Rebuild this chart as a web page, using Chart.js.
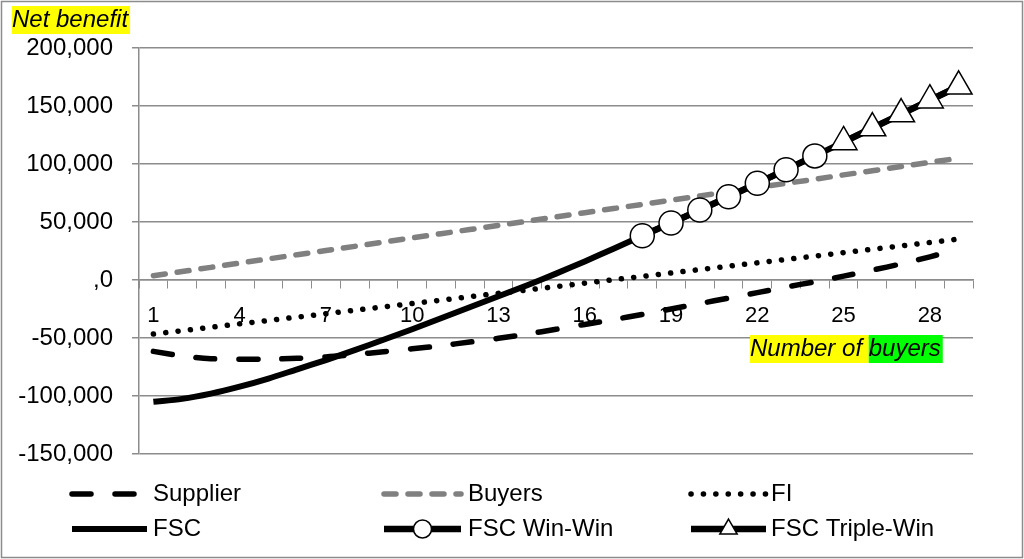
<!DOCTYPE html>
<html>
<head>
<meta charset="utf-8">
<script src="https://cdn.jsdelivr.net/npm/chart.js@4.4.1/dist/chart.umd.min.js"></script>
<style>
  html, body { margin: 0; padding: 0; background: #fff; }
  #wrap { width: 1024px; height: 559px; }
</style>
</head>
<body>
<div id="wrap"><canvas id="benefitChart" width="1024" height="559"></canvas></div>
<script>
// number of buyers on the x axis
const buyersCount = [1, 2, 3, 4, 5, 6, 7, 8, 9, 10, 11, 12, 13, 14, 15, 16, 17, 18, 19, 20, 21, 22, 23, 24, 25, 26, 27, 28, 29];
const xTickShown = [1, 4, 7, 10, 13, 16, 19, 22, 25, 28];

// net benefit per party
const supplier = [-61500, -65500, -67800, -68400, -68200, -67500, -66300, -64300, -61800, -59300,
  -56600, -53500, -50300, -46600, -42500, -38300, -34100, -29700, -25000, -20300,
  -15600, -10900, -6100, -1500, 3300, 8500, 13900, 20000, 27000];
const buyers = [3700, 7300, 10900, 14600, 18200, 21800, 25400, 29000, 32700, 36300,
  39900, 43500, 47100, 50700, 54400, 58000, 61600, 65200, 68800, 72500,
  76100, 79700, 83300, 86900, 90600, 94200, 97800, 101400, 105000];
const fi = [-46600, -43700, -40800, -37800, -34900, -32000, -29100, -26100, -23200, -20300,
  -17400, -14400, -11500, -8600, -5700, -2700, 200, 3100, 6000, 9000,
  11900, 14800, 17700, 20600, 23600, 26500, 29400, 32300, 35300];
const fsc = [-105000, -102500, -98000, -92000, -85000, -77000, -69000, -60500, -51500, -42500,
  -33000, -23500, -14000, -4500, 5500, 16000, 27000, 38200, 49100, 60300,
  71800, 83400, 95100, 107000, 119000, 131000, 143000, 155000, 167000];
const fscWinWin = [null, null, null, null, null, null, null, null, null, null,
  null, null, null, null, null, null, null, 38200, 49100, 60300,
  71800, 83400, 95100, 107000, null, null, null, null, null];
const fscTripleWin = [null, null, null, null, null, null, null, null, null, null,
  null, null, null, null, null, null, null, null, null, null,
  null, null, null, null, 119000, 131000, 143000, 155000, 167000];

const gridGray = "#8c8c8c";
const baseFont = "'Liberation Sans', Arial, sans-serif";

// legend slots: [sample start, sample end, text x, y]
const legendSlots = [
  [72, 147, 153, 494],
  [384, 461, 468, 494],
  [691, 766, 771, 494],
  [72, 147, 153, 529],
  [384, 461, 468, 529],
  [691, 766, 771, 529]
];

const decorations = {
  id: "decorations",
  beforeDraw(chart) {
    const c = chart.ctx;
    c.save();
    c.fillStyle = "#fff";
    c.fillRect(0, 0, chart.width, chart.height);
    c.restore();
  },
  afterDraw(chart) {
    const c = chart.ctx;
    c.save();
    // outer frame
    c.strokeStyle = gridGray;
    c.lineWidth = 1.5;
    c.strokeRect(1.5, 1.5, chart.width - 3, chart.height - 3);

    // axis titles with highlight
    c.font = "italic 24px " + baseFont;
    c.textBaseline = "middle";
    c.textAlign = "left";
    let w = c.measureText("Net benefit").width;
    c.fillStyle = "#ffff00";
    c.fillRect(12, 6, w + 2, 28);
    c.fillStyle = "#000";
    c.fillText("Net benefit", 12, 20);

    const w1 = c.measureText("Number of ").width;
    const w2 = c.measureText("buyers").width;
    c.fillStyle = "#ffff00";
    c.fillRect(750, 335, w1, 28);
    c.fillStyle = "#00ff00";
    c.fillRect(750 + w1, 335, w2 + 2, 28);
    c.fillStyle = "#000";
    c.fillText("Number of ", 750, 349);
    c.fillText("buyers", 750 + w1, 349);

    // legend
    chart.data.datasets.forEach((ds, i) => {
      const [x1, x2, tx, y] = legendSlots[i];
      c.save();
      c.strokeStyle = ds.borderColor;
      c.lineWidth = ds.borderWidth;
      c.lineCap = ds.borderCapStyle || "butt";
      c.setLineDash(ds.borderDash || []);
      c.beginPath();
      c.moveTo(x1, y);
      c.lineTo(x2, y);
      c.stroke();
      c.restore();
      if (ds.pointRadius > 0) {
        c.save();
        c.fillStyle = ds.pointBackgroundColor;
        c.strokeStyle = ds.pointBorderColor;
        c.lineWidth = ds.pointBorderWidth;
        Chart.helpers.drawPoint(c, {
          pointStyle: ds.pointStyle, radius: ds.legendRadius, rotation: 0, borderWidth: ds.pointBorderWidth
        }, (x1 + x2) / 2, y);
        c.restore();
      }
      c.font = "24px " + baseFont;
      c.fillStyle = "#000";
      c.textBaseline = "middle";
      c.fillText(ds.label, tx, y);
    });
    c.restore();
  }
};

const ctx = document.getElementById("benefitChart").getContext("2d");
const benefitChart = new Chart(ctx, {
  type: "line",
  data: {
    labels: buyersCount,
    datasets: [
      {
        label: "Supplier",
        data: supplier,
        borderColor: "#000",
        borderWidth: 5.5,
        borderDash: [19, 24],
        borderCapStyle: "round",
        pointRadius: 0,
        tension: 0.3,
        order: 5,
      },
      {
        label: "Buyers",
        data: buyers,
        borderColor: "#808080",
        borderWidth: 5.5,
        borderDash: [12, 12],
        borderCapStyle: "round",
        pointRadius: 0,
        order: 4,
      },
      {
        label: "FI",
        data: fi,
        borderColor: "#000",
        borderWidth: 5.5,
        borderDash: [0.1, 12.3],
        borderCapStyle: "round",
        pointRadius: 0,
        order: 3,
      },
      {
        label: "FSC",
        data: fsc,
        borderColor: "#000",
        borderWidth: 6,
        pointRadius: 0,
        tension: 0.3,
        order: 2,
      },
      {
        label: "FSC Win-Win",
        data: fscWinWin,
        borderColor: "#000",
        borderWidth: 6.5,
        pointStyle: "circle",
        pointRadius: 12,
        legendRadius: 9,
        pointBackgroundColor: "#fff",
        pointBorderColor: "#000",
        pointBorderWidth: 1.5,
        order: 1,
      },
      {
        label: "FSC Triple-Win",
        data: fscTripleWin,
        borderColor: "#000",
        borderWidth: 6.5,
        pointStyle: "triangle",
        pointRadius: 15.5,
        legendRadius: 10,
        pointBackgroundColor: "#fff",
        pointBorderColor: "#000",
        pointBorderWidth: 1.5,
        order: 0,
      },
    ],
  },
  options: {
    responsive: false,
    animation: false,
    devicePixelRatio: 1,
    layout: { padding: { left: 0, right: 51, top: 48, bottom: 105 } },
    plugins: {
      legend: { display: false },
      tooltip: { enabled: false },
    },
    scales: {
      x: {
        type: "category",
        position: { y: 0 },
        offset: true,
        grid: { display: true, drawOnChartArea: false, drawTicks: true, tickLength: 8, color: gridGray, offset: true },
        border: { display: true, color: gridGray, width: 1.5 },
        ticks: {
          autoSkip: false,
          maxRotation: 0,
          padding: 15,
          color: "#000",
          font: { family: baseFont, size: 22 },
          callback: function (value, index) {
            return xTickShown.includes(buyersCount[index]) ? String(buyersCount[index]) : "";
          },
        },
      },
      y: {
        min: -150000,
        max: 200000,
        afterFit: (scale) => { scale.width = 139; },
        grid: { color: gridGray, lineWidth: 1.5, tickLength: 7 },
        border: { display: true, color: gridGray, width: 1.5 },
        ticks: {
          stepSize: 50000,
          padding: 19,
          color: "#000",
          font: { family: baseFont, size: 24 },
          callback: (v) => (v === 0 ? ",0" : v.toLocaleString("en-US")),
        },
      },
    },
  },
  plugins: [decorations],
});
</script>
</body>
</html>
